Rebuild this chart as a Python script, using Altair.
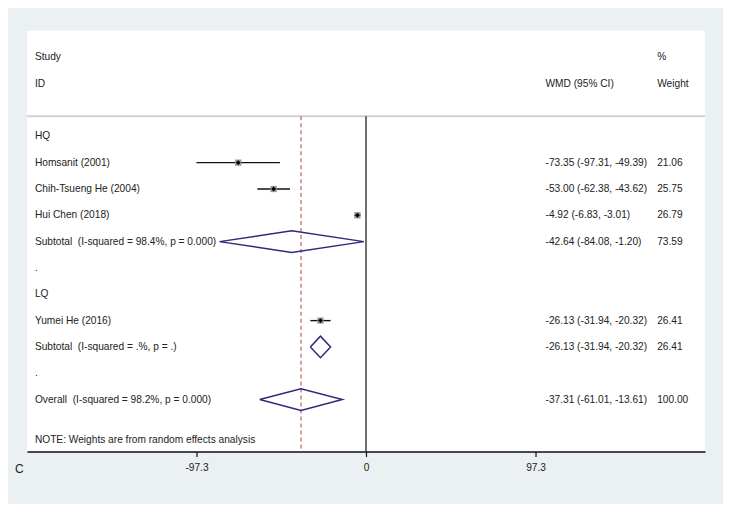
import altair as alt
import pandas as pd

# ---- data ----
row_labels = [
    "HQ",
    "Homsanit (2001)",
    "Chih-Tsueng He (2004)",
    "Hui Chen (2018)",
    "Subtotal\u00a0 (I-squared = 98.4%, p = 0.000)",
    ".",
    "LQ",
    "Yumei He (2016)",
    "Subtotal\u00a0 (I-squared = .%, p = .)",
    ".",
    "Overall\u00a0 (I-squared = 98.2%, p = 0.000)",
]
study_names = ["Homsanit (2001)", "Chih-Tsueng He (2004)", "Hui Chen (2018)", "Yumei He (2016)"]
study_wmd = [-73.35, -53.00, -4.92, -26.13]
study_lo = [-97.31, -62.38, -6.83, -31.94]
study_hi = [-49.39, -43.62, -3.01, -20.32]
study_weight = ["21.06", "25.75", "26.79", "26.41"]

pooled_names = [row_labels[4], row_labels[8], row_labels[10]]
pooled_wmd = [-42.64, -26.13, -37.31]
pooled_lo = [-84.08, -31.94, -61.01]
pooled_hi = [-1.20, -20.32, -13.61]
pooled_weight = ["73.59", "26.41", "100.00"]

tick_values = [-97.3, 0, 97.3]
note_text = "NOTE: Weights are from random effects analysis"
panel_letter = "C"

# ---- layout constants ----
W, H = 680, 422
X_DOMAIN = [-194.6, 194.6]
Y_DOMAIN = [-4.015, 11.97]
SEP_ROW = -0.76
HALF_H = 0.41
FONT = "Liberation Sans"
FS = 10.2
TXT = "#222222"
X_LABEL, X_CI, X_WT = 8, 520, 632

def row_of(name):
    return row_labels.index(name)

labels_df = pd.DataFrame({"label": row_labels, "row": list(range(len(row_labels)))})

studies_df = pd.DataFrame({
    "name": study_names,
    "row": [row_of(n) for n in study_names],
    "wmd": study_wmd, "lo": study_lo, "hi": study_hi,
    "weight": study_weight,
})
studies_df["ci"] = [f"{w:.2f} ({l:.2f}, {h:.2f})" for w, l, h in zip(study_wmd, study_lo, study_hi)]

pooled_rows = [row_of(n) for n in pooled_names]
pooled_df = pd.DataFrame({
    "name": pooled_names, "row": pooled_rows,
    "weight": pooled_weight,
    "ci": [f"{w:.2f} ({l:.2f}, {h:.2f})" for w, l, h in zip(pooled_wmd, pooled_lo, pooled_hi)],
})

dia = []
for n, r, w, l, h in zip(pooled_names, pooled_rows, pooled_wmd, pooled_lo, pooled_hi):
    pts = [(l, r), (w, r - HALF_H), (h, r), (w, r + HALF_H), (l, r)]
    for k, (xx, yy) in enumerate(pts):
        dia.append({"name": n, "k": k, "x": xx, "y": yy})
dia_df = pd.DataFrame(dia)

xs = alt.Scale(domain=X_DOMAIN, nice=False, zero=False)
ys = alt.Scale(domain=Y_DOMAIN, nice=False, zero=False, reverse=True)

x_axis = alt.Axis(values=tick_values, labelExpr="'' + datum.value", title=None, grid=False,
                  tickSize=5, domainColor="#111", domainWidth=1.5, tickColor="#111",
                  tickWidth=1.2, labelFont=FONT, labelFontSize=FS, labelColor=TXT,
                  labelPadding=6)

base_empty = alt.Chart(pd.DataFrame({"v": [0]}))

# separator line under header
sep = base_empty.mark_rule(color="#d2d2d2", strokeWidth=2).encode(
    x=alt.value(0), x2=alt.value(W), y=alt.datum(SEP_ROW, scale=ys, axis=None))

# zero line
zero = base_empty.mark_rule(color="#111", strokeWidth=1.2).encode(
    x=alt.datum(0, scale=xs, axis=x_axis), y=alt.datum(SEP_ROW, scale=ys, axis=None), y2=alt.value(H))

# overall dashed line
dashed = base_empty.mark_rule(color="#c0504d", strokeWidth=1.1, strokeDash=[4, 3]).encode(
    x=alt.datum(pooled_wmd[-1], scale=xs), y=alt.datum(SEP_ROW, scale=ys, axis=None), y2=alt.value(H))

ci_lines = alt.Chart(studies_df).mark_rule(color="#111", strokeWidth=1.4).encode(
    x=alt.X("lo:Q", scale=xs), x2="hi:Q", y=alt.Y("row:Q", scale=ys, axis=None))

boxes = alt.Chart(studies_df).mark_square(color="#9a9a9a", size=40, opacity=1).encode(
    x=alt.X("wmd:Q", scale=xs), y=alt.Y("row:Q", scale=ys, axis=None))

dots = alt.Chart(studies_df).mark_point(shape="diamond", filled=True, color="#000", size=24, opacity=1).encode(
    x=alt.X("wmd:Q", scale=xs), y=alt.Y("row:Q", scale=ys, axis=None))

diamonds = alt.Chart(dia_df).mark_line(color="#2b2b7a", strokeWidth=1.5).encode(
    x=alt.X("x:Q", scale=xs), y=alt.Y("y:Q", scale=ys, axis=None), detail="name:N", order="k:Q")

txt = dict(font=FONT, fontSize=FS, color=TXT, align="left", baseline="middle")

left_text = alt.Chart(labels_df).mark_text(**txt).encode(
    x=alt.value(X_LABEL), y=alt.Y("row:Q", scale=ys, axis=None), text="label:N")

header_df = pd.DataFrame({
    "text": ["Study", "ID", "%", "WMD (95% CI)", "Weight"],
    "row": [-3, -2, -3, -2, -2],
    "col": ["l", "l", "w", "c", "w"],
})
hdr = []
for col, px in [("l", X_LABEL), ("c", X_CI), ("w", X_WT)]:
    hdr.append(alt.Chart(header_df[header_df["col"] == col]).mark_text(**txt).encode(
        x=alt.value(px), y=alt.Y("row:Q", scale=ys, axis=None), text="text:N"))

right_df = pd.concat([studies_df[["row", "ci", "weight"]], pooled_df[["row", "ci", "weight"]]])
ci_text = alt.Chart(right_df).mark_text(**txt).encode(
    x=alt.value(X_CI), y=alt.Y("row:Q", scale=ys, axis=None), text="ci:N")
wt_text = alt.Chart(right_df).mark_text(**txt).encode(
    x=alt.value(X_WT), y=alt.Y("row:Q", scale=ys, axis=None), text="weight:N")

note = base_empty.mark_text(**txt).encode(
    x=alt.value(X_LABEL), y=alt.datum(11.52, scale=ys, axis=None), text=alt.value(note_text))

letter = base_empty.mark_text(font=FONT, fontSize=12, color=TXT, align="left", baseline="middle").encode(
    x=alt.value(-12), y=alt.value(H + 18), text=alt.value(panel_letter))

chart = alt.layer(
    sep, zero, dashed, ci_lines, boxes, dots, diamonds,
    left_text, *hdr, ci_text, wt_text, note, letter,
).properties(
    width=W, height=H,
    padding={"left": 19, "top": 22, "right": 18, "bottom": 52},
    autosize=alt.AutoSizeParams(type="none"),
).configure(background="#ebf0f2").configure_view(fill="white", stroke=None)

chart.save("out.html", embed_options={"renderer": "svg", "actions": False})
